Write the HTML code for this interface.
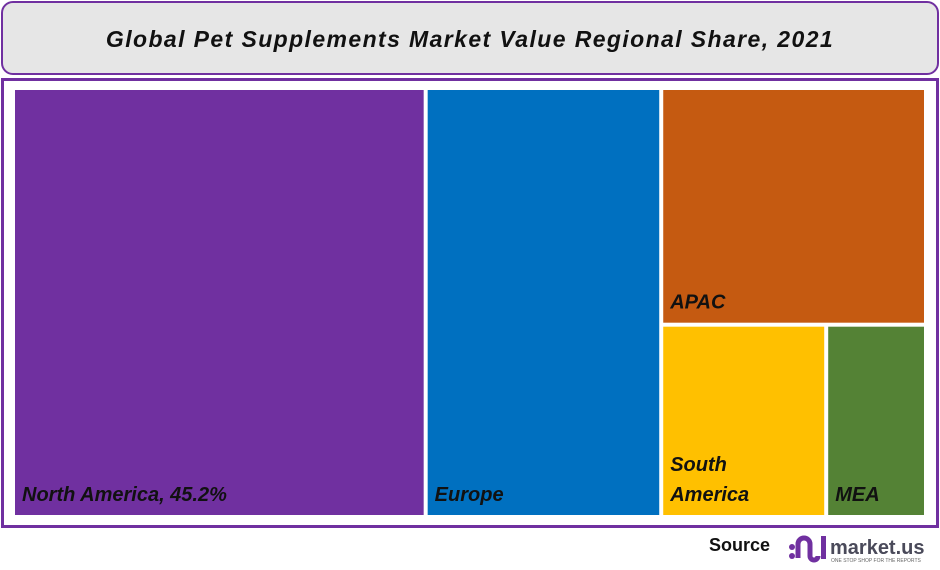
<!DOCTYPE html>
<html><head><meta charset="utf-8"><style>
body{margin:0;width:940px;height:570px;background:#fff;font-family:"Liberation Sans",sans-serif;position:relative;overflow:hidden}
#title{position:absolute;left:1px;top:1px;width:934px;height:70px;border:2px solid #7030a0;border-radius:12px;background:#e6e6e6;text-align:center;line-height:72px;font-weight:bold;font-style:italic;font-size:23px;letter-spacing:1.4px;color:#111}
#frame{position:absolute;left:1px;top:78px;width:932px;height:444px;border:3px solid #7030a0}
#src{position:absolute;left:709px;top:535px;font-weight:bold;font-size:18px;color:#111}
</style></head><body>
<div id="title">Global Pet Supplements Market Value Regional Share, 2021</div>
<div id="frame"></div>
<svg id="tm" width="940" height="570" style="position:absolute;left:0;top:0"></svg>
<div id="src">Source</div>
<svg width="155" height="40" style="position:absolute;left:785px;top:528px">
<circle cx="7" cy="19" r="3" fill="#7030a0"/><circle cx="7" cy="28" r="3" fill="#7030a0"/>
<path d="M13 30 V16 a6 6 0 0 1 12 0 V28 a4 4 0 0 0 8 0" stroke="#7030a0" stroke-width="5" fill="none"/>
<rect x="36" y="8" width="5" height="23" fill="#7030a0"/>
<text x="45" y="26" font-family="Liberation Sans" font-weight="bold" font-size="20" fill="#4a4a5a">market.us</text>
<text x="46" y="34" font-family="Liberation Sans" font-size="5" fill="#666">ONE STOP SHOP FOR THE REPORTS</text>
</svg>
<script>
const regions=["North America","Europe","APAC","South America","MEA"];
const shares=[45.2,25.8,16.0,8.1,4.9];
const labels=["North America, 45.2%","Europe","APAC","South\nAmerica","MEA"];
const colors=["#7030a0","#0070c0","#c55a11","#ffc000","#548235"];
const X0=13,Y0=88,W=913,H=429,G=4;
const svg=document.getElementById('tm');
const total=shares.reduce((a,b)=>a+b,0);
function rect(i,x,y,w,h){
 const r=document.createElementNS('http://www.w3.org/2000/svg','rect');
 r.setAttribute('x',x+G/2);r.setAttribute('y',y+G/2);r.setAttribute('width',Math.max(0,w-G));r.setAttribute('height',Math.max(0,h-G));r.setAttribute('fill',colors[i]);
 
 
 svg.appendChild(r);
 const lines=labels[i].split('\n');
 const t=document.createElementNS('http://www.w3.org/2000/svg','text');
 t.setAttribute('font-family','Liberation Sans');t.setAttribute('font-weight','bold');t.setAttribute('font-style','italic');t.setAttribute('font-size','20');t.setAttribute('fill','#111');
 
 
 lines.forEach((l,k)=>{const s=document.createElementNS('http://www.w3.org/2000/svg','tspan');s.setAttribute('x',x+G/2+7);s.setAttribute('y',y+h-G/2-14-(lines.length-1-k)*30);s.textContent=l;t.appendChild(s);});
 svg.appendChild(t);
}
let x=X0;
const w0=W*shares[0]/total;rect(0,x,Y0,w0,H);x+=w0;
const w1=W*shares[1]/total;rect(1,x,Y0,w1,H);x+=w1;
const rw=X0+W-x;const rest=shares[2]+shares[3]+shares[4];
const h2=H*shares[2]/rest;rect(2,x,Y0,rw,h2);
const bh=H-h2;const b=shares[3]+shares[4];
const w3=rw*shares[3]/b;rect(3,x,Y0+h2,w3,bh);rect(4,x+w3,Y0+h2,rw-w3,bh);
</script>
</body></html>
